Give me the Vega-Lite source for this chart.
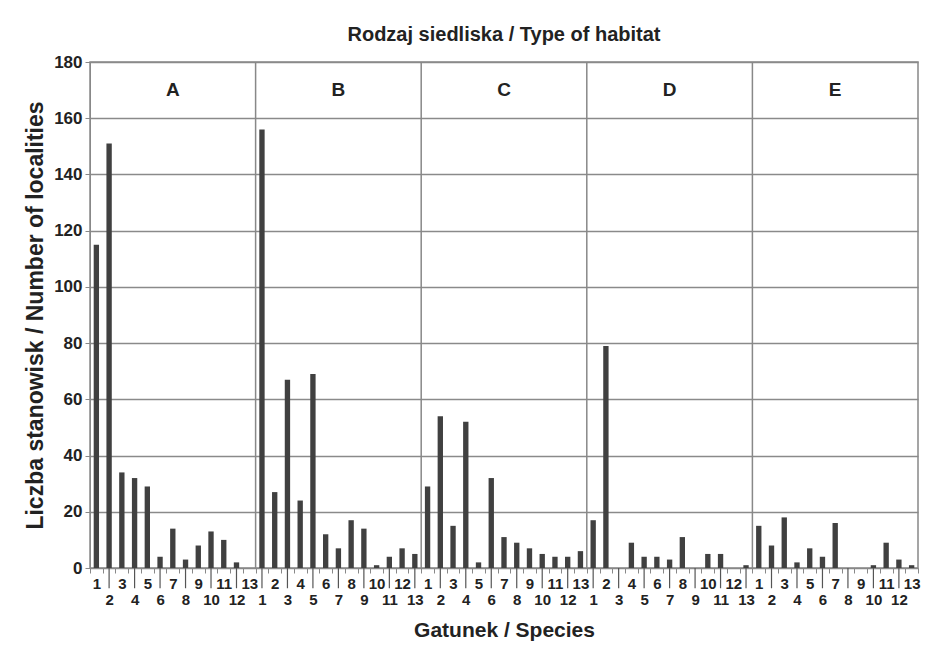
{
  "$schema": "https://vega.github.io/schema/vega-lite/v6.json",
  "autosize": "none",
  "width": 828,
  "height": 506,
  "padding": {"left": 90, "top": 62, "right": 30, "bottom": 87},
  "background": "white",
  "title": {"text": "Rodzaj siedliska / Type of habitat", "fontSize": 20, "font": "Liberation Sans", "fontWeight": "bold", "color": "#222", "offset": 8, "anchor": "middle"},
  "config": {
    "font": "Liberation Sans",
    "view": {"stroke": "#888", "strokeWidth": 1.5},
    "axis": {"labelFont": "Liberation Sans", "titleFont": "Liberation Sans", "labelColor": "#222", "titleColor": "#222", "domainColor": "#888", "tickColor": "#888"}
  },
  "data": {"values": [
    {"hab": "A", "sp": 1, "pos": 1, "n": 115}, {"hab": "A", "sp": 2, "pos": 2, "n": 151}, {"hab": "A", "sp": 3, "pos": 3, "n": 34}, {"hab": "A", "sp": 4, "pos": 4, "n": 32}, {"hab": "A", "sp": 5, "pos": 5, "n": 29}, {"hab": "A", "sp": 6, "pos": 6, "n": 4}, {"hab": "A", "sp": 7, "pos": 7, "n": 14}, {"hab": "A", "sp": 8, "pos": 8, "n": 3}, {"hab": "A", "sp": 9, "pos": 9, "n": 8}, {"hab": "A", "sp": 10, "pos": 10, "n": 13}, {"hab": "A", "sp": 11, "pos": 11, "n": 10}, {"hab": "A", "sp": 12, "pos": 12, "n": 2}, {"hab": "A", "sp": 13, "pos": 13, "n": 0},
    {"hab": "B", "sp": 1, "pos": 14, "n": 156}, {"hab": "B", "sp": 2, "pos": 15, "n": 27}, {"hab": "B", "sp": 3, "pos": 16, "n": 67}, {"hab": "B", "sp": 4, "pos": 17, "n": 24}, {"hab": "B", "sp": 5, "pos": 18, "n": 69}, {"hab": "B", "sp": 6, "pos": 19, "n": 12}, {"hab": "B", "sp": 7, "pos": 20, "n": 7}, {"hab": "B", "sp": 8, "pos": 21, "n": 17}, {"hab": "B", "sp": 9, "pos": 22, "n": 14}, {"hab": "B", "sp": 10, "pos": 23, "n": 1}, {"hab": "B", "sp": 11, "pos": 24, "n": 4}, {"hab": "B", "sp": 12, "pos": 25, "n": 7}, {"hab": "B", "sp": 13, "pos": 26, "n": 5},
    {"hab": "C", "sp": 1, "pos": 27, "n": 29}, {"hab": "C", "sp": 2, "pos": 28, "n": 54}, {"hab": "C", "sp": 3, "pos": 29, "n": 15}, {"hab": "C", "sp": 4, "pos": 30, "n": 52}, {"hab": "C", "sp": 5, "pos": 31, "n": 2}, {"hab": "C", "sp": 6, "pos": 32, "n": 32}, {"hab": "C", "sp": 7, "pos": 33, "n": 11}, {"hab": "C", "sp": 8, "pos": 34, "n": 9}, {"hab": "C", "sp": 9, "pos": 35, "n": 7}, {"hab": "C", "sp": 10, "pos": 36, "n": 5}, {"hab": "C", "sp": 11, "pos": 37, "n": 4}, {"hab": "C", "sp": 12, "pos": 38, "n": 4}, {"hab": "C", "sp": 13, "pos": 39, "n": 6},
    {"hab": "D", "sp": 1, "pos": 40, "n": 17}, {"hab": "D", "sp": 2, "pos": 41, "n": 79}, {"hab": "D", "sp": 3, "pos": 42, "n": 0}, {"hab": "D", "sp": 4, "pos": 43, "n": 9}, {"hab": "D", "sp": 5, "pos": 44, "n": 4}, {"hab": "D", "sp": 6, "pos": 45, "n": 4}, {"hab": "D", "sp": 7, "pos": 46, "n": 3}, {"hab": "D", "sp": 8, "pos": 47, "n": 11}, {"hab": "D", "sp": 9, "pos": 48, "n": 0}, {"hab": "D", "sp": 10, "pos": 49, "n": 5}, {"hab": "D", "sp": 11, "pos": 50, "n": 5}, {"hab": "D", "sp": 12, "pos": 51, "n": 0}, {"hab": "D", "sp": 13, "pos": 52, "n": 1},
    {"hab": "E", "sp": 1, "pos": 53, "n": 15}, {"hab": "E", "sp": 2, "pos": 54, "n": 8}, {"hab": "E", "sp": 3, "pos": 55, "n": 18}, {"hab": "E", "sp": 4, "pos": 56, "n": 2}, {"hab": "E", "sp": 5, "pos": 57, "n": 7}, {"hab": "E", "sp": 6, "pos": 58, "n": 4}, {"hab": "E", "sp": 7, "pos": 59, "n": 16}, {"hab": "E", "sp": 8, "pos": 60, "n": 0}, {"hab": "E", "sp": 9, "pos": 61, "n": 0}, {"hab": "E", "sp": 10, "pos": 62, "n": 1}, {"hab": "E", "sp": 11, "pos": 63, "n": 9}, {"hab": "E", "sp": 12, "pos": 64, "n": 3}, {"hab": "E", "sp": 13, "pos": 65, "n": 1}
  ]},
  "layer": [
    {
      "mark": {"type": "bar", "color": "#404040", "width": {"band": 0.42}},
      "encoding": {
        "x": {"field": "pos", "type": "ordinal", "scale": {"paddingInner": 0, "paddingOuter": 0},
          "axis": {"orient": "bottom", "tickBand": "extent", "tickSize": 5, "tickWidth": 1, "labelAngle": 0,
            "labelExpr": "isValid(datum.value) && datum.value > 0 ? (datum.value % 2 == 0 ? ['', '' + ((datum.value - 1) % 13 + 1)] : '' + ((datum.value - 1) % 13 + 1)) : ''",
            "labelFontSize": 15, "labelFontWeight": "bold", "labelLineHeight": 16, "labelPadding": 3, "labelBaseline": "top",
            "title": "Gatunek / Species", "titleFontSize": 21, "titleFontWeight": "bold", "titlePadding": 12, "grid": false}},
        "y": {"field": "n", "type": "quantitative", "scale": {"domain": [0, 180], "nice": false},
          "axis": {"values": [0, 20, 40, 60, 80, 100, 120, 140, 160, 180], "grid": true, "gridColor": "#8a8a8a", "gridWidth": 1.5, "gridOpacity": 1,
            "tickSize": 5, "labelFontSize": 17, "labelFontWeight": "bold", "labelPadding": 3,
            "title": "Liczba stanowisk / Number of localities", "titleFontSize": 23, "titleFontWeight": "bold", "titlePadding": 6}}
      }
    },
    {
      "transform": [{"filter": "datum.pos % 2 == 0"}],
      "mark": {"type": "rule", "color": "#555", "strokeWidth": 1.2, "clip": false},
      "encoding": {
        "x": {"field": "pos", "type": "ordinal"},
        "y": {"datum": 0},
        "y2": {"datum": -7.2}
      }
    },
    {
      "transform": [{"filter": "datum.sp == 1 && datum.pos > 1"}],
      "mark": {"type": "rule", "color": "#888", "strokeWidth": 1.5},
      "encoding": {
        "x": {"field": "pos", "type": "ordinal", "bandPosition": 0},
        "y": {"datum": 0},
        "y2": {"datum": 180}
      }
    },
    {
      "transform": [{"filter": "datum.sp == 7"}],
      "mark": {"type": "text", "fontSize": 19, "fontWeight": "bold", "color": "#222", "font": "Liberation Sans"},
      "encoding": {
        "x": {"field": "pos", "type": "ordinal"},
        "y": {"datum": 170},
        "text": {"field": "hab"}
      }
    }
  ]
}
